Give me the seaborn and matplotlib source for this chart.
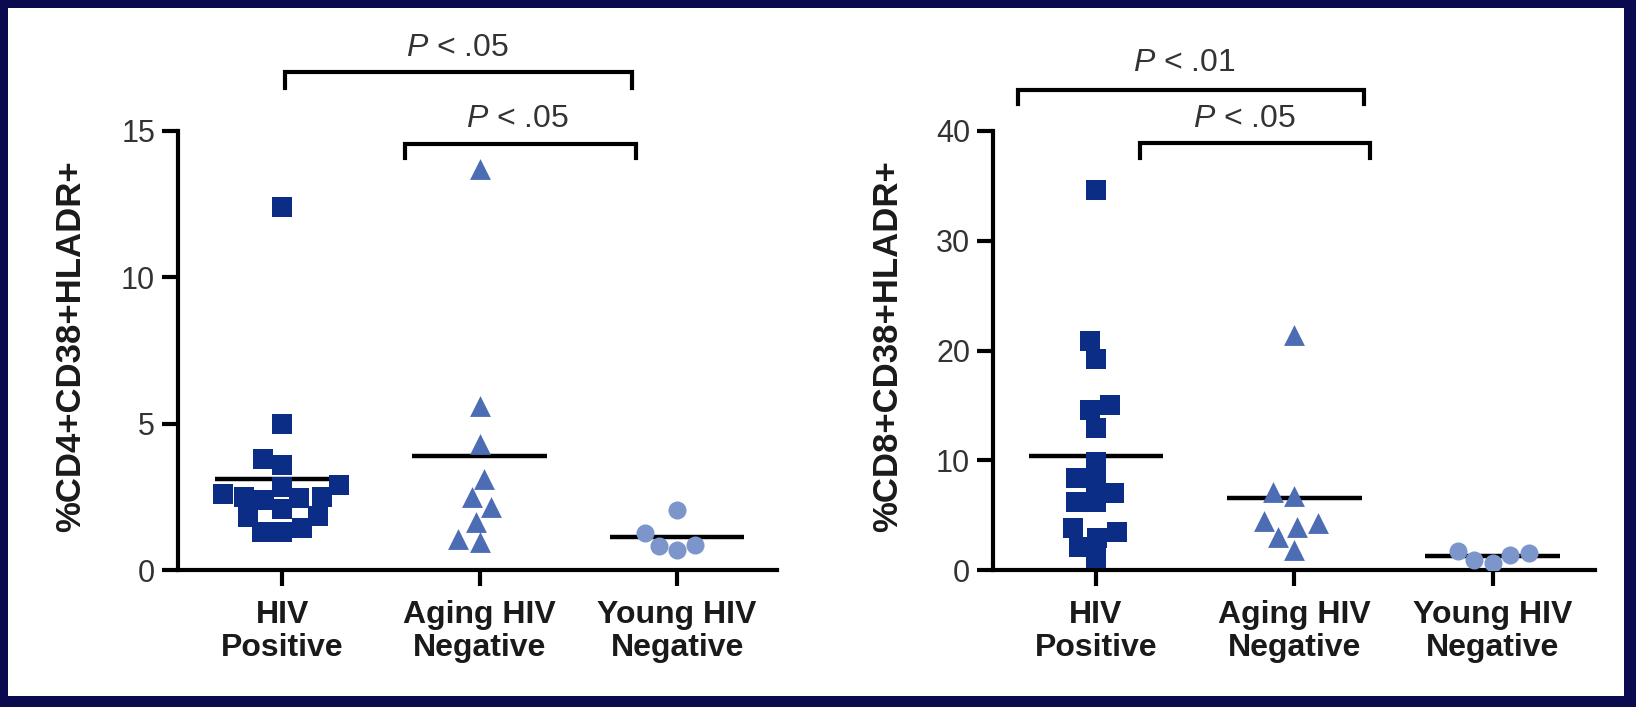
import numpy as np
import pandas as pd
import matplotlib
matplotlib.use("Agg")
import matplotlib.pyplot as plt
import matplotlib.transforms as mtransforms
from matplotlib.patches import Rectangle
import seaborn as sns

# ---- data -------------------------------------------------------------
groups = ["HIV\nPositive", "Aging HIV\nNegative", "Young HIV\nNegative"]

cd4_hiv_pos = [12.4, 5.0, 3.8, 3.6, 2.9, 2.85, 2.6, 2.5, 2.5, 2.45, 2.4, 2.1,
               1.85, 1.8, 1.45, 1.3, 1.3]
cd4_aging_neg = [13.7, 5.6, 4.3, 3.1, 2.5, 2.15, 1.65, 1.05, 0.95]
cd4_young_neg = [2.05, 1.25, 0.85, 0.82, 0.68]

cd8_hiv_pos = [34.6, 20.9, 19.2, 15.0, 14.6, 12.9, 9.8, 8.4, 8.0, 7.0, 6.2, 6.2,
               3.8, 3.5, 2.9, 2.1, 1.1]
cd8_aging_neg = [21.4, 7.1, 6.7, 4.5, 4.3, 3.9, 3.0, 1.8]
cd8_young_neg = [1.75, 1.55, 1.35, 0.95, 0.6]

ylabels = ["%CD4+CD38+HLADR+", "%CD8+CD38+HLADR+"]
yticks_cd4 = [0, 5, 10, 15]
yticks_cd8 = [0, 10, 20, 30, 40]
pvals_cd4 = ["$P$ < .05", "$P$ < .05"]
pvals_cd8 = ["$P$ < .01", "$P$ < .05"]

# ---- style ------------------------------------------------------------
sns.set_theme(style="ticks")
plt.rcParams["font.family"] = ["Liberation Sans", "DejaVu Sans"]
plt.rcParams["mathtext.fontset"] = "custom"
plt.rcParams["mathtext.rm"] = "Liberation Sans"
plt.rcParams["mathtext.it"] = "Liberation Sans:italic"

colors = ["#0c2d86", "#4c6db4", "#7c95ca"]
markers = ["s", "^", "o"]
sizes = [14, 15, 13]
frame_color = "#0a0a4e"
ink = "#1a1a1a"
label_gray = "#333333"

W, H = 1636, 707
fig = plt.figure(figsize=(W / 100, H / 100), dpi=100, facecolor=frame_color)
fig.add_artist(Rectangle((8 / W, 11 / H), 1616 / W, 688 / H,
                         transform=fig.transFigure, facecolor="white",
                         edgecolor="none", zorder=-1))

ax1 = fig.add_axes([178 / W, 137 / H, 599 / W, 439 / H])
ax2 = fig.add_axes([993 / W, 137 / H, 602 / W, 439 / H])

panels = [
    dict(ax=ax1, series=[cd4_hiv_pos, cd4_aging_neg, cd4_young_neg],
         yticks=yticks_cd4, ylabel=ylabels[0], xlim=(-0.527, 2.506),
         ylab_x=-0.1786, pvals=pvals_cd4,
         brackets=[(0.015, 1.77, 1.134, 1.098, 0.886, 1.19),
                   (0.62, 1.79, 0.970, 0.939, 1.19, 1.027)]),
    dict(ax=ax2, series=[cd8_hiv_pos, cd8_aging_neg, cd8_young_neg],
         yticks=yticks_cd8, ylabel=ylabels[1], xlim=(-0.519, 2.514),
         ylab_x=-0.1744, pvals=pvals_cd8,
         brackets=[(-0.393, 1.35, 1.093, 1.062, 0.443, 1.155),
                   (0.22, 1.38, 0.973, 0.939, 0.75, 1.027)]),
]

for p in panels:
    ax = p["ax"]
    ax.set_facecolor("white")
    for i, (g, vals) in enumerate(zip(groups, p["series"])):
        df = pd.DataFrame({"group": g, "value": vals})
        sns.swarmplot(data=df, x="group", y="value", order=groups,
                      marker=markers[i], color=colors[i], size=sizes[i],
                      linewidth=0, ax=ax, zorder=3)
        ax.hlines(np.mean(vals), i - 0.34, i + 0.34, color="black",
                  lw=3.2, zorder=2)

    ax.set_xlim(*p["xlim"])
    ax.set_ylim(p["yticks"][0], p["yticks"][-1])
    ax.set_yticks(p["yticks"])
    ax.set_xticks(range(len(groups)))
    ax.set_xticklabels(groups, fontweight="bold", fontsize=23,
                       linespacing=1.15, color=ink)
    ax.set_xlabel("")
    ax.set_ylabel(p["ylabel"], fontsize=25, fontweight="bold", color=ink)
    ax.yaxis.set_label_coords(p["ylab_x"], 0.51)
    ax.yaxis.label.set_va("center")

    sns.despine(ax=ax)
    for side in ("left", "bottom"):
        ax.spines[side].set_linewidth(3)
        ax.spines[side].set_color("black")
        ax.spines[side].set_capstyle("projecting")
    ax.tick_params(axis="both", length=11.5, width=3, direction="out",
                   color="black")
    ax.tick_params(axis="y", labelsize=22, pad=5, labelcolor=label_gray)
    ax.tick_params(axis="x", pad=10)

    trans = mtransforms.blended_transform_factory(ax.transData, ax.transAxes)
    for (x0, x1, yb, ye, tx, ty), label in zip(p["brackets"], p["pvals"]):
        ax.plot([x0, x0, x1, x1], [ye, yb, yb, ye], color="black", lw=3,
                transform=trans, clip_on=False, solid_joinstyle="miter",
                solid_capstyle="projecting")
        ax.text(tx, ty, label, transform=trans, ha="center", va="center",
                fontsize=23, color=label_gray)

fig.savefig("out.png", dpi=100, facecolor=fig.get_facecolor())
